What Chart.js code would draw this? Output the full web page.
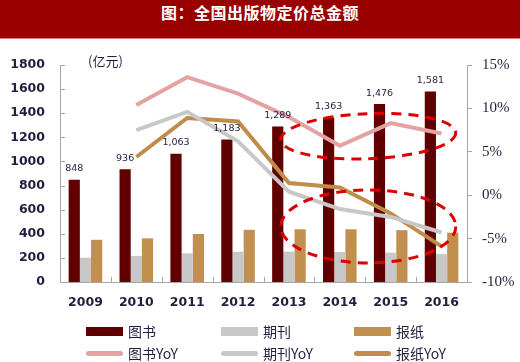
<!DOCTYPE html>
<html>
<head>
<meta charset="utf-8">
<script src="https://cdn.jsdelivr.net/npm/chart.js@4.4.1/dist/chart.umd.min.js"></script>
<style>
    body { margin: 0; background: #fff; }
    #wrap { position: relative; width: 520px; height: 362px; }
    #title {
        position: absolute; left: 0; top: 0; width: 520px; height: 38px;
        background: #990000; color: #fff; text-align: center; line-height: 38px;
        font: bold 16px "Noto Sans CJK SC"; letter-spacing: 0.5px;
        border-bottom: 1px solid #d77;
    }
    #unit { position: absolute; left: 88px; top: 51px; font: 13px "Noto Sans CJK SC"; color: #1f1f3f; }
    .item { position: absolute; display: flex; align-items: center; height: 20px; font: 14px "Noto Sans CJK SC"; color: #1f1f3f; }
    .sw { width: 37px; margin-right: 5px; }
</style>
</head>
<body>
<div id="wrap">
    <canvas id="chart" width="520" height="362"></canvas>
    <div id="title">图：全国出版物定价总金额</div>
    <div id="unit">(亿元)</div>
    <div id="legend"></div>
</div>
<script>
// Datos
const years = ['2009', '2010', '2011', '2012', '2013', '2014', '2015', '2016'];
const books = [848, 936, 1063, 1183, 1289, 1363, 1476, 1581];
const periodicals = [202, 217, 238, 251, 252, 249, 243, 232];
const newspapers = [350, 362, 398, 433, 437, 437, 430, 409];
const booksYoY = [null, 10.4, 13.6, 11.7, 9.0, 5.7, 8.3, 7.1];
const periodicalsYoY = [null, 7.5, 9.6, 6.2, 0.4, -1.6, -2.5, -4.3];
const newspapersYoY = [null, 4.4, 8.9, 8.5, 1.4, 0.9, -2.1, -5.9];
const leftTicks = [0, 200, 400, 600, 800, 1000, 1200, 1400, 1600, 1800];
const rightTicks = [-10, -5, 0, 5, 10, 15];

const axisColor = '#a6a6a6';
const textColor = '#1f1f3f';

// Marcas internas de los ejes, etiquetas y elipses
const extrasPlugin = {
    id: 'extras',
    afterDatasetsDraw(chart, args, opts) {
        const ctx = chart.ctx;
        const x = chart.scales.x;
        const y = chart.scales.y;
        const y1 = chart.scales.y1;
        const area = chart.chartArea;

        ctx.save();
        ctx.strokeStyle = axisColor;
        ctx.lineWidth = 1;
        ctx.beginPath();
        leftTicks.forEach(v => {
            const py = Math.round(y.getPixelForValue(v)) + 0.5;
            ctx.moveTo(area.left, py);
            ctx.lineTo(area.left + 5, py);
        });
        for (let i = 0; i < years.length - 1; i++) {
            const px = Math.round((x.getPixelForValue(i) + x.getPixelForValue(i + 1)) / 2) + 0.5;
            ctx.moveTo(px, area.bottom);
            ctx.lineTo(px, area.bottom - 5);
        }
        ctx.stroke();

        // etiquetas de libros
        const bookIndex = chart.data.datasets.findIndex(d => d.label === '图书');
        ctx.fillStyle = textColor;
        ctx.font = '9.5px "DejaVu Sans"';
        ctx.textAlign = 'center';
        ctx.textBaseline = 'middle';
        chart.getDatasetMeta(bookIndex).data.forEach((bar, i) => {
            ctx.fillText(books[i].toLocaleString('en-US'), bar.x, bar.y - 11);
        });

        // elipses punteadas
        ctx.strokeStyle = '#dd0000';
        ctx.lineWidth = 3;
        ctx.setLineDash([10, 7]);
        opts.ellipses.forEach(e => {
            const cx = x.getPixelForValue(e.x);
            const rx = x.getPixelForValue(e.x + e.rx) - cx;
            const cy = y1.getPixelForValue(e.y);
            const ry = cy - y1.getPixelForValue(e.y + e.ry);
            ctx.beginPath();
            ctx.ellipse(cx, cy, rx, ry, e.rot, 0, Math.PI * 2);
            ctx.stroke();
        });
        ctx.restore();
    }
};

const ctx = document.getElementById('chart').getContext('2d');
const chart = new Chart(ctx, {
    type: 'bar',
    data: {
        labels: years,
        datasets: [
            { type: 'line', label: '图书YoY', data: booksYoY, yAxisID: 'y1', borderColor: '#e4a3a3', borderWidth: 4, pointRadius: 0, order: 0 },
            { type: 'line', label: '期刊YoY', data: periodicalsYoY, yAxisID: 'y1', borderColor: '#c8c8c8', borderWidth: 4, pointRadius: 0, order: 0 },
            { type: 'line', label: '报纸YoY', data: newspapersYoY, yAxisID: 'y1', borderColor: '#c08c4a', borderWidth: 4, pointRadius: 0, order: 0 },
            { label: '图书', data: books, backgroundColor: '#600000', order: 1 },
            { label: '期刊', data: periodicals, backgroundColor: '#c8c8c8', order: 1 },
            { label: '报纸', data: newspapers, backgroundColor: '#c1904f', order: 1 }
        ]
    },
    options: {
        responsive: false,
        animation: false,
        layout: { padding: { top: 65, bottom: 52, left: 0, right: 0 } },
        datasets: { bar: { barPercentage: 1, categoryPercentage: 0.66 } },
        scales: {
            x: {
                grid: { display: false, drawTicks: false },
                border: { color: axisColor },
                ticks: { color: textColor, padding: 13, font: { family: 'DejaVu Sans', size: 12.5, weight: 'bold' } },
                afterFit(scale) { scale.height = 28; }
            },
            y: {
                position: 'left',
                min: 0, max: 1800,
                afterBuildTicks(scale) { scale.ticks = leftTicks.map(v => ({ value: v })); },
                grid: { display: false, drawTicks: false },
                border: { color: axisColor },
                ticks: { color: textColor, padding: 15, font: { family: 'DejaVu Sans', size: 12.5, weight: 'bold' }, callback: v => String(v) },
                afterFit(scale) { scale.width = 60; }
            },
            y1: {
                position: 'right',
                min: -10, max: 15,
                afterBuildTicks(scale) { scale.ticks = rightTicks.map(v => ({ value: v })); },
                grid: { drawOnChartArea: false, drawTicks: true, tickLength: 5, color: axisColor },
                border: { color: axisColor },
                ticks: { color: textColor, padding: 10, font: { family: 'Liberation Serif', size: 15 }, callback: v => v + '%' },
                afterFit(scale) { scale.width = 53; }
            }
        },
        plugins: {
            legend: { display: false },
            tooltip: { enabled: false },
            extras: {
                ellipses: [
                    { x: 5.56, y: 6.8, rx: 1.72, ry: 2.6, rot: -0.04 },
                    { x: 5.56, y: -3.6, rx: 1.72, ry: 4.2, rot: 0 }
                ]
            }
        }
    },
    plugins: [extrasPlugin]
});

// Leyenda en dos filas de tres columnas
const legendCols = [86, 221, 354];
const legendRows = [331, 353];
const legendOrder = [3, 4, 5, 0, 1, 2];
const legend = document.getElementById('legend');
legendOrder.forEach((idx, k) => {
    const ds = chart.data.datasets[idx];
    const isLine = ds.type === 'line';
    const item = document.createElement('div');
    item.className = 'item';
    item.style.left = legendCols[k % 3] + 'px';
    item.style.top = (legendRows[Math.floor(k / 3)] - 10) + 'px';
    const sw = document.createElement('span');
    sw.className = 'sw';
    sw.style.height = isLine ? '5px' : '9px';
    sw.style.borderRadius = isLine ? '3px' : '0';
    sw.style.background = isLine ? ds.borderColor : ds.backgroundColor;
    const txt = document.createElement('span');
    txt.textContent = ds.label;
    item.appendChild(sw);
    item.appendChild(txt);
    legend.appendChild(item);
});
</script>
</body>
</html>
